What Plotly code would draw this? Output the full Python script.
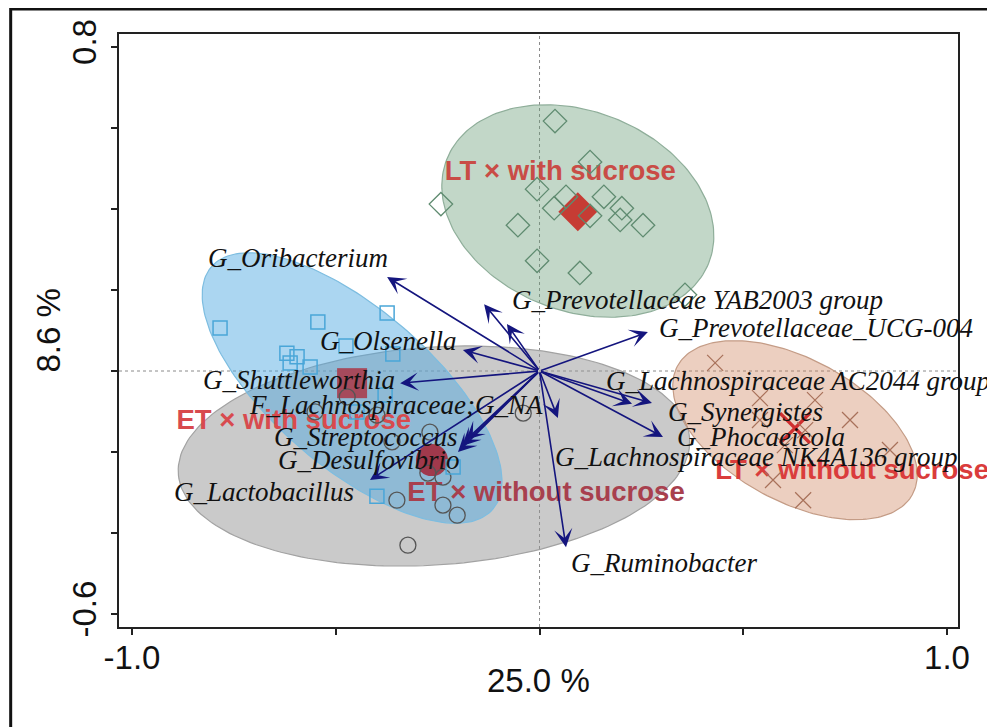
import numpy as np
import plotly.graph_objects as go

# ---------------- data ----------------
# sample scores (RDA axis 1, axis 2)
lt_with_x = [0.038, 0.124, -0.006, -0.242, 0.065, 0.036, 0.158, 0.124, 0.202, 0.198, 0.254, -0.053, -0.006, 0.099, 0.357]
lt_with_y = [0.617, 0.516, 0.449, 0.412, 0.430, 0.402, 0.430, 0.383, 0.402, 0.373, 0.360, 0.360, 0.272, 0.242, 0.188]

et_with_x = [-0.784, -0.544, -0.374, -0.475, -0.360, -0.620, -0.595, -0.612, -0.563, -0.379, -0.448, -0.212, -0.399]
et_with_y = [0.106, 0.121, 0.143, 0.062, 0.042, 0.044, 0.035, 0.020, 0.010, -0.059, -0.101, -0.237, -0.309]

et_without_x = [-0.472, -0.551, -0.399, -0.269, -0.362, -0.274, -0.237, -0.350, -0.237, -0.202, -0.323, -0.040]
et_without_y = [-0.064, -0.101, -0.109, -0.151, -0.175, -0.252, -0.262, -0.319, -0.331, -0.356, -0.430, -0.104]

lt_without_x = [0.431, 0.541, 0.676, 0.762, 0.541, 0.652, 0.860, 0.573, 0.647, 0.602]
lt_without_y = [0.020, -0.067, -0.072, -0.121, -0.121, -0.146, -0.195, -0.269, -0.319, -0.183]

# group centroids
group_names = ["LT × with sucrose", "ET × with sucrose", "ET × without sucrose", "LT × without sucrose"]
centroid_x = [0.094, -0.460, -0.264, 0.627]
centroid_y = [0.393, -0.030, -0.220, -0.141]

# confidence ellipses: centre, semi-axes, rotation (deg)
ell_cx = [0.094, -0.460, -0.259, 0.627]
ell_cy = [0.395, -0.042, -0.210, -0.146]
ell_a = [0.346, 0.457, 0.629, 0.329]
ell_b = [0.246, 0.195, 0.269, 0.175]
ell_ang = [-22, -41, 4, -29]

# species (response) arrows
species = ["G_Oribacterium", "G_Lachnospiraceae NK3A20 group", "G_Prevotellaceae YAB2003 group",
           "G_Prevotellaceae_UCG-004", "G_Olsenella", "G_Shuttleworthia", "F_Lachnospiraceae;G_NA",
           "G_Lachnospiraceae AC2044 group", "G_Synergistes", "G_Phocaeicola", "G_Streptococcus",
           "G_Desulfovibrio", "G_Lachnospiraceae NK4A136 group", "G_Lactobacillus", "G_Ruminobacter"]
species_x = [-0.374, -0.136, -0.080, 0.266, -0.188, -0.342, -0.180, 0.227, 0.276, 0.303, -0.190, -0.200, 0.045, -0.416, 0.065]
species_y = [0.232, 0.165, 0.116, 0.096, 0.052, -0.030, -0.170, -0.081, -0.079, -0.163, -0.185, -0.200, -0.116, -0.269, -0.435]

# label anchor (left edge, middle) for each species name
label_x = [-0.818, -1.103, -0.073, 0.288, -0.544, -0.832, -0.718, 0.159, 0.310, 0.332, -0.656, -0.646, 0.033, -0.901, 0.072]
label_y = [0.279, 0.175, 0.175, 0.106, 0.074, -0.022, -0.084, -0.025, -0.101, -0.163, -0.163, -0.220, -0.212, -0.299, -0.474]

# group label centres
glabel_x = [0.051, -0.603, 0.016, 0.767]
glabel_y = [0.489, -0.126, -0.304, -0.249]

x_ticks = [-1.0, -0.5, 0.0, 0.5, 1.0]
x_ticktext = ["-1.0", "", "", "", "1.0"]
y_ticks = [-0.6, -0.4, -0.2, 0.0, 0.2, 0.4, 0.6, 0.8]
y_ticktext = ["-0.6", "", "", "", "", "", "", "0.8"]
x_title = "25.0 %"
y_title = "8.6 %"

# ---------------- styles ----------------
ell_fill = ["rgba(110,160,125,0.42)", "rgba(80,170,225,0.48)", "rgba(150,150,150,0.5)", "rgba(205,130,90,0.38)"]
ell_line = ["#8fae9a", "#7dbde0", "#a2a2a2", "#c49c86"]
ell_order = [2, 1, 0, 3]
glabel_col = ["#c94c46", "#d84a4e", "#a8404e", "#da3c3c"]
cent_col = ["#c63c34", "#a64a5c", "#a0394c", "#d03030"]
arrow_col = "#14157e"
sans = "Arial, Liberation Sans, sans-serif"
serif = "Times New Roman, Liberation Serif, serif"

fig = go.Figure()

# ellipses
t = np.linspace(0, 2 * np.pi, 200)
for i in ell_order:
    th = np.deg2rad(ell_ang[i])
    ex = ell_cx[i] + ell_a[i] * np.cos(t) * np.cos(th) - ell_b[i] * np.sin(t) * np.sin(th)
    ey = ell_cy[i] + ell_a[i] * np.cos(t) * np.sin(th) + ell_b[i] * np.sin(t) * np.cos(th)
    fig.add_trace(go.Scatter(x=ex, y=ey, mode="lines", fill="toself", fillcolor=ell_fill[i],
                             line=dict(color=ell_line[i], width=1.2), hoverinfo="skip", showlegend=False))

# group labels
fig.add_trace(go.Scatter(x=glabel_x, y=glabel_y, mode="text", text=group_names, cliponaxis=False,
                         textfont=dict(family=sans, size=27.5, color=glabel_col, weight="bold"),
                         hoverinfo="skip", showlegend=False))

# centroids
cent_sym = ["diamond", "square", "circle", "x-thin"]
cent_size = [30, 30, 32, 30]
for i in range(4):
    if cent_sym[i] == "x-thin":
        mk = dict(symbol="x-thin", size=cent_size[i], line=dict(color=cent_col[i], width=3.5))
    else:
        mk = dict(symbol=cent_sym[i], size=cent_size[i], color=cent_col[i], line=dict(width=0))
    fig.add_trace(go.Scatter(x=[centroid_x[i]], y=[centroid_y[i]], mode="markers", marker=mk,
                             hoverinfo="skip", showlegend=False))

# samples
fig.add_trace(go.Scatter(x=et_without_x, y=et_without_y, mode="markers",
                         marker=dict(symbol="circle-open", size=16, color="#555555", line=dict(width=1.3)),
                         showlegend=False))
fig.add_trace(go.Scatter(x=et_with_x, y=et_with_y, mode="markers",
                         marker=dict(symbol="square-open", size=14, color="#4aa6d8", line=dict(width=1.5)),
                         showlegend=False))
fig.add_trace(go.Scatter(x=lt_with_x, y=lt_with_y, mode="markers",
                         marker=dict(symbol="diamond-open", size=18, color="#5f8b70", line=dict(width=1.3)),
                         showlegend=False))
fig.add_trace(go.Scatter(x=lt_without_x, y=lt_without_y, mode="markers",
                         marker=dict(symbol="x-thin-open", size=16, color="#a8715a", line=dict(width=1.2)),
                         showlegend=False))

annotations = []
for i in range(len(species)):
    annotations.append(dict(x=species_x[i], y=species_y[i], ax=0, ay=0, xref="x", yref="y",
                            axref="x", ayref="y", text="", showarrow=True, arrowhead=3,
                            arrowsize=1.9, arrowwidth=1.6, arrowcolor=arrow_col, standoff=0))
for i in range(len(species)):
    annotations.append(dict(x=label_x[i], y=label_y[i], xref="x", yref="y", text=species[i],
                            showarrow=False, xanchor="left", yanchor="middle",
                            font=dict(family=serif, size=27, color="#111111", style="italic")))
annotations.append(dict(x=0.5, y=0.0, xref="paper", yref="paper", yshift=-53, text=x_title,
                        showarrow=False, xanchor="center", yanchor="middle",
                        font=dict(family=sans, size=33, color="#111111")))
annotations.append(dict(x=0, y=0.5, xref="paper", yref="paper", xshift=-71, text=y_title, textangle=-90,
                        showarrow=False, xanchor="center", yanchor="middle",
                        font=dict(family=sans, size=33, color="#111111")))

shapes = [
    dict(type="line", xref="x", yref="paper", x0=0, x1=0, y0=0, y1=1, layer="below",
         line=dict(color="#8a8a8a", width=1, dash="dot")),
    dict(type="line", xref="paper", yref="y", x0=0, x1=1, y0=0, y1=0, layer="below",
         line=dict(color="#8a8a8a", width=1, dash="dot")),
    dict(type="rect", xref="paper", yref="paper", x0=-0.1291, x1=1.07, y0=-0.25, y1=1.0422,
         line=dict(color="#111111", width=3), layer="above"),
]

fig.update_layout(
    width=995, height=727,
    margin=dict(l=111, r=45, t=26, b=108),
    paper_bgcolor="white", plot_bgcolor="white",
    annotations=annotations, shapes=shapes,
    xaxis=dict(range=[-1.032, 1.027], tickvals=x_ticks, ticktext=x_ticktext, ticks="outside",
               ticklen=6, tickwidth=1.5, tickcolor="#222222", showline=True, linewidth=2,
               linecolor="#222222", mirror=True, showgrid=False, zeroline=False,
               tickfont=dict(family=sans, size=33, color="#111111"), ticklabelstandoff=-6),
    yaxis=dict(range=[-0.632, 0.832], tickvals=y_ticks, ticktext=y_ticktext, ticks="outside",
               ticklen=6, tickwidth=1.5, tickcolor="#222222", showline=True, linewidth=2,
               linecolor="#222222", mirror=True, showgrid=False, zeroline=False, tickangle=-90,
               tickfont=dict(family=sans, size=33, color="#111111"), ticklabelstandoff=2),
)

fig.write_html("out.html")
